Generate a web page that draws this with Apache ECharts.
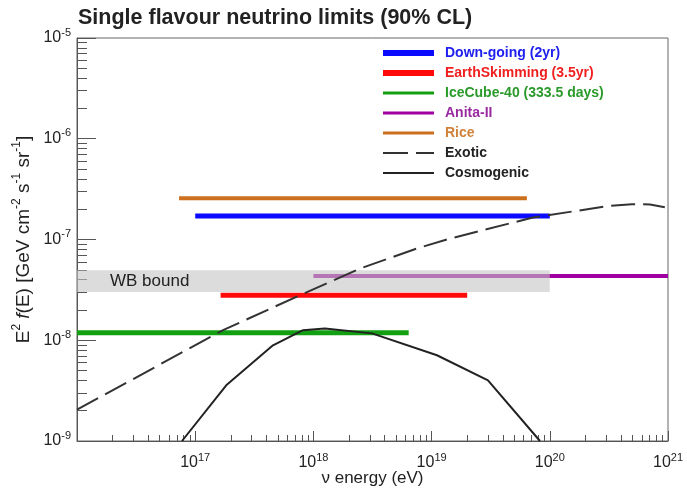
<!DOCTYPE html>
<html><head><meta charset="utf-8">
<script src="https://cdn.jsdelivr.net/npm/echarts@6/dist/echarts.min.js"></script>
<style>html,body{margin:0;padding:0;background:#fff}#c{width:687px;height:488px}</style>
</head><body><div id="c"></div>
<script>
// ---- data ----
const titleText = 'Single flavour neutrino limits (90% CL)';
const seriesNames = ['Down-going (2yr)', 'EarthSkimming (3.5yr)', 'IceCube-40 (333.5 days)', 'Anita-II', 'Rice', 'Exotic', 'Cosmogenic'];
// horizontal limits: [E, flux]
const downGoing = [[1e17, 1.71e-7], [1e20, 1.71e-7]];
const earthSkimming = [[1.64e17, 2.8e-8], [2.0e19, 2.8e-8]];
const iceCube40 = [[1e16, 1.19e-8], [6.4e18, 1.19e-8]];
const anita2 = [[1e18, 4.33e-8], [1e21, 4.33e-8]];
const rice = [[7.3e16, 2.57e-7], [6.4e19, 2.57e-7]];
// model curves
const exoticE = [1e16, 1.72e17, 7.7e17, 2.48e18, 7.5e18, 1.43e19, 2.72e19, 7.2e19, 1.48e20, 3.03e20, 4.95e20, 7.05e20, 9.4e20];
const exoticF = [2.05e-9, 1.26e-8, 2.8e-8, 5.15e-8, 8.15e-8, 1.02e-7, 1.24e-7, 1.65e-7, 1.88e-7, 2.14e-7, 2.24e-7, 2.23e-7, 2.09e-7];
const cosmoE = [7.73e16, 1.83e17, 4.55e17, 8.17e17, 1.25e18, 3.13e18, 1.11e19, 3.0e19, 8.26e19];
const cosmoF = [1e-9, 3.57e-9, 8.9e-9, 1.26e-8, 1.31e-8, 1.17e-8, 7.1e-9, 4.0e-9, 1e-9];
// Waxman-Bahcall band
const wbBandE = [1e16, 1e20];
const wbBandF = [3.02e-8, 4.95e-8];
const wbLabel = 'WB bound';
// axes
const xRange = [1e16, 1e21];
const yRange = [1e-9, 1e-5];
const xMinorTicks = [];
for (let d = 16; d < 21; d++) for (let k = 2; k <= 9; k++) xMinorTicks.push(k * Math.pow(10, d));
const yMinorTicks = [];
for (let d = -9; d < -5; d++) for (let k = 2; k <= 9; k++) yMinorTicks.push(k * Math.pow(10, d));

// ---- styles ----
const lineColors = ['#0a0aff', '#ff0a0a', '#12a012', '#a000a0', '#cc6f1e', '#333333', '#222222'];
const textColors = ['#2020f0', '#f02020', '#2a9a2a', '#9a2aa0', '#d0823a', '#222222', '#222222'];
const legendIcons = [
  'path://M0,0H51V6H0Z', 'path://M0,0H51V6H0Z', 'path://M0,0H51V3H0Z', 'path://M0,0H51V3H0Z',
  'path://M0,0H51V3H0Z', 'path://M0,0H25V2H0Z M33,0H51V2H33Z', 'path://M0,0H51V2H0Z'
];
const FONT = 'Liberation Sans, Arial, sans-serif';

function powLabel(v, hideExp) {
  const e = Math.round(Math.log10(v));
  if (e === hideExp) return '';
  return '{b|10}{s|' + e + '}';
}
const powRich = {
  b: { fontSize: 16, color: '#222', fontFamily: FONT, lineHeight: 22 },
  s: { fontSize: 11, color: '#222', fontFamily: FONT, lineHeight: 10, verticalAlign: 'top' }
};

const chart = echarts.init(document.getElementById('c'));
const pairs = (E, F) => E.map((e, i) => [e, F[i]]);

function limitSeries(idx, data, width, z) {
  return {
    name: seriesNames[idx], type: 'line', data: data, symbol: 'none', z: z,
    lineStyle: { color: lineColors[idx], width: width, cap: 'butt' },
    itemStyle: { color: lineColors[idx] }, silent: true, animation: false
  };
}

const option = {
  animation: false,
  title: {
    text: titleText, left: 78, top: 7, padding: 0,
    textStyle: { fontSize: 21.5, fontWeight: 'bold', color: '#222', fontFamily: FONT }
  },
  grid: {
    left: 77, right: 19, top: 38, bottom: 47, containLabel: false, outerBoundsMode: 'none',
    show: true, borderColor: '#666', borderWidth: 1, backgroundColor: 'transparent'
  },
  legend: {
    orient: 'vertical', left: 383, top: 46, padding: 0, itemWidth: 51, itemHeight: 14, itemGap: 6,
    selectedMode: false,
    textStyle: { fontSize: 14, fontWeight: 'bold', fontFamily: FONT, padding: [0, 0, 0, 6] },
    data: seriesNames.map((n, i) => ({ name: n, icon: legendIcons[i], textStyle: { color: textColors[i] } }))
  },
  xAxis: [{
    type: 'log', logBase: 10, min: xRange[0], max: xRange[1], interval: 1, position: 'bottom',
    name: 'ν energy (eV)', nameLocation: 'middle', nameGap: 29, nameMoveOverlap: false,
    nameTextStyle: { fontSize: 17, color: '#222', fontFamily: FONT },
    axisLine: { onZero: false, lineStyle: { color: '#555', width: 1 } },
    axisTick: { inside: true, length: 10, lineStyle: { color: '#555' } },
    axisLabel: { margin: 11, formatter: v => powLabel(v, 16), rich: powRich },
    splitLine: { show: false }
  }, {
    type: 'log', logBase: 10, min: xRange[0], max: xRange[1], position: 'bottom',
    axisLine: { show: false, onZero: false },
    axisTick: { inside: true, length: 6, lineStyle: { color: '#555' }, customValues: xMinorTicks },
    axisLabel: { show: false }, splitLine: { show: false }
  }],
  yAxis: [{
    type: 'log', logBase: 10, min: yRange[0], max: yRange[1], interval: 1, position: 'left',
    name: '{n|E}{s|2}{n| }{i|f}{n|(E) [GeV cm}{s|-2}{n| s}{s|-1}{n| sr}{s|-1}{n|]}',
    nameLocation: 'middle', nameRotate: 90, nameGap: 40, nameMoveOverlap: false,
    nameTextStyle: {
      rich: {
        n: { fontSize: 19, color: '#222', fontFamily: FONT, lineHeight: 26 },
        i: { fontSize: 19, color: '#222', fontFamily: FONT, fontStyle: 'italic', lineHeight: 26 },
        s: { fontSize: 12, color: '#222', fontFamily: FONT, lineHeight: 12, verticalAlign: 'top' }
      }
    },
    axisLine: { onZero: false, lineStyle: { color: '#555', width: 1 } },
    axisTick: { inside: true, length: 19, lineStyle: { color: '#555' } },
    axisLabel: { margin: 6, formatter: v => powLabel(v, null), rich: powRich },
    splitLine: { show: false }
  }, {
    type: 'log', logBase: 10, min: yRange[0], max: yRange[1], position: 'left',
    axisLine: { show: false, onZero: false },
    axisTick: { inside: true, length: 10, lineStyle: { color: '#555' }, customValues: yMinorTicks },
    axisLabel: { show: false }, splitLine: { show: false }
  }],
  series: [
    limitSeries(0, downGoing, 5, 5),
    limitSeries(1, earthSkimming, 5, 5),
    limitSeries(2, iceCube40, 5, 5),
    limitSeries(3, anita2, 4, 2),
    limitSeries(4, rice, 4, 5),
    {
      name: seriesNames[5], type: 'line', data: pairs(exoticE, exoticF), symbol: 'none', z: 6, silent: true,
      lineStyle: { color: lineColors[5], width: 2, type: [24, 8] }, itemStyle: { color: lineColors[5] }
    },
    {
      name: seriesNames[6], type: 'line', data: pairs(cosmoE, cosmoF), symbol: 'none', z: 6, silent: true,
      lineStyle: { color: lineColors[6], width: 2 }, itemStyle: { color: lineColors[6] }
    },
    {
      name: 'WB', type: 'line', symbol: 'none', silent: true, z: 3,
      data: [[wbBandE[0], wbBandF[0]], [wbBandE[1], wbBandF[1]]],
      lineStyle: { opacity: 0 },
      markArea: {
        silent: true, z: 3,
        itemStyle: { color: 'rgba(197,197,197,0.6)' },
        label: { show: true, position: 'insideLeft', offset: [28, 0], fontSize: 17, color: '#222', fontFamily: FONT },
        data: [[{ xAxis: wbBandE[0], yAxis: wbBandF[0], name: wbLabel }, { xAxis: wbBandE[1], yAxis: wbBandF[1] }]]
      }
    }
  ]
};
chart.setOption(option);
</script>
</body></html>
